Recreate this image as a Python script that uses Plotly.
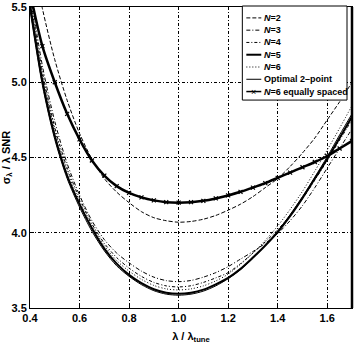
import plotly.graph_objects as go

# Normalised wavelength grid
lam = [0.40, 0.45, 0.50, 0.55, 0.60, 0.65, 0.70, 0.75, 0.80, 0.85, 0.90, 0.95,
       1.00, 1.05, 1.10, 1.15, 1.20, 1.25, 1.30, 1.35, 1.40, 1.45, 1.50, 1.55,
       1.60, 1.65, 1.70]

# Normalised error sigma_lambda / lambda * SNR for each design
n2 = [5.90, 5.49, 5.15, 4.88, 4.66, 4.49, 4.36, 4.27, 4.20, 4.14, 4.10, 4.08,
      4.07, 4.075, 4.09, 4.115, 4.15, 4.19, 4.24, 4.30, 4.36, 4.44, 4.53, 4.63,
      4.75, 4.87, 5.00]
n3 = [5.62, 5.11, 4.74, 4.46, 4.25, 4.08, 3.955, 3.865, 3.80, 3.745, 3.705, 3.682,
      3.675, 3.683, 3.705, 3.735, 3.775, 3.825, 3.875, 3.93, 3.995, 4.08, 4.18, 4.30,
      4.43, 4.56, 4.69]
n4 = [5.58, 5.07, 4.70, 4.43, 4.23, 4.06, 3.93, 3.835, 3.765, 3.71, 3.67, 3.647,
      3.64, 3.648, 3.67, 3.70, 3.735, 3.795, 3.865, 3.94, 4.02, 4.115, 4.225, 4.35,
      4.48, 4.615, 4.75]
n5 = [5.52, 5.01, 4.645, 4.38, 4.19, 4.03, 3.895, 3.795, 3.72, 3.665, 3.625, 3.602,
      3.595, 3.602, 3.622, 3.657, 3.70, 3.76, 3.835, 3.915, 4.005, 4.11, 4.23, 4.36,
      4.49, 4.63, 4.77]
n6 = [5.56, 5.05, 4.68, 4.41, 4.21, 4.05, 3.915, 3.815, 3.745, 3.69, 3.65, 3.627,
      3.62, 3.627, 3.647, 3.68, 3.725, 3.79, 3.865, 3.95, 4.045, 4.155, 4.275, 4.41,
      4.55, 4.695, 4.845]
opt2 = [5.48, 4.98, 4.62, 4.36, 4.17, 4.01, 3.88, 3.78, 3.71, 3.655, 3.615, 3.592,
        3.585, 3.592, 3.612, 3.647, 3.695, 3.755, 3.83, 3.915, 4.01, 4.12, 4.24, 4.37,
        4.505, 4.65, 4.79]
n6_eq = [5.60, 5.24, 5.00, 4.79, 4.62, 4.48, 4.38, 4.31, 4.265, 4.235, 4.215, 4.203,
         4.20, 4.203, 4.212, 4.228, 4.248, 4.272, 4.30, 4.33, 4.365, 4.40, 4.435, 4.47,
         4.51, 4.56, 4.61]

x_ticks = [0.4, 0.6, 0.8, 1.0, 1.2, 1.4, 1.6]
y_ticks = [3.5, 4.0, 4.5, 5.0, 5.5]

FONT = "Liberation Sans, Arial, sans-serif"

series = [
    ("<i>N</i>=2", n2, dict(color="black", width=1, dash="4px,2px")),
    ("<i>N</i>=3", n3, dict(color="black", width=1, dash="4px,2px,1px,2px")),
    ("<i>N</i>=4", n4, dict(color="black", width=1, dash="3px,2px,1px,2px")),
    ("<i>N</i>=5", n5, dict(color="black", width=2)),
    ("<i>N</i>=6", n6, dict(color="black", width=1, dash="1px,2px")),
    ("Optimal 2–point", opt2, dict(color="black", width=1)),
]

fig = go.Figure()
for name, ys, line in series:
    fig.add_trace(go.Scatter(x=lam, y=ys, mode="lines", name=name,
                             line=dict(shape="spline", smoothing=0.8, **line)))

eq_name = "<i>N</i>=6 equally spaced"
fig.add_trace(go.Scatter(
    x=lam, y=n6_eq, mode="lines+markers", name=eq_name,
    line=dict(color="black", width=2.5, shape="spline", smoothing=0.8),
    marker=dict(symbol="x-thin-open", size=4, line=dict(color="black", width=1.2)),
))

grid = dict(showgrid=True, gridcolor="black", gridwidth=1, griddash="3px,2px,1px,2px")
tfont = dict(family=FONT, size=11, color="black", weight="bold")

fig.update_xaxes(range=[0.4, 1.7], tickvals=x_ticks, ticktext=[f"{v:.1f}" for v in x_ticks],
                 showline=True, linecolor="black", linewidth=1, mirror=True,
                 ticks="inside", ticklen=4, tickcolor="black", zeroline=False,
                 ticklabeloverflow="allow",
                 title=dict(text="λ / λ<sub>tune</sub>", standoff=10, font=tfont),
                 tickfont=tfont, **grid)
fig.update_yaxes(range=[3.5, 5.5], tickvals=y_ticks, ticktext=[f"{v:.1f}" for v in y_ticks],
                 showline=True, linecolor="black", linewidth=1, mirror=True,
                 ticks="inside", ticklen=4, tickcolor="black", zeroline=False,
                 ticklabeloverflow="allow",
                 title=dict(text="σ<sub>λ</sub> / λ SNR", standoff=2, font=tfont),
                 tickfont=tfont, **grid)

# Heavy right-hand frame edge
fig.add_shape(type="line", xref="x domain", yref="y domain", x0=1, x1=1, y0=0, y1=1,
              line=dict(color="black", width=2.5))

# Compact legend box drawn in axis-domain coordinates
L, R, T, B = 30, 353, 4, 308   # plot-area extent in pixels


def dx(px):
    return (px - L) / (R - L)


def dy(py):
    return (B - py) / (B - T)


fig.add_shape(type="rect", xref="x domain", yref="y domain",
              x0=dx(243), x1=dx(348), y0=dy(98), y1=dy(3),
              line=dict(color="black", width=1), fillcolor="white", layer="above")

entries = [(name, line) for name, _, line in series] + \
          [(eq_name, dict(color="black", width=1.5))]
for i, (name, line) in enumerate(entries):
    py = 15 + 12.4 * i
    fig.add_shape(type="line", xref="x domain", yref="y domain",
                  x0=dx(247), x1=dx(262), y0=dy(py), y1=dy(py),
                  line=line, layer="above")
    fig.add_annotation(xref="x domain", yref="y domain", x=dx(263), y=dy(py),
                       text=name, showarrow=False, xanchor="left", yanchor="middle",
                       font=dict(family=FONT, size=9, color="black", weight="bold"))
    if name == eq_name:
        fig.add_annotation(xref="x domain", yref="y domain", x=dx(254.5), y=dy(py),
                           text="×", showarrow=False, xanchor="center", yanchor="middle",
                           font=dict(family=FONT, size=9, color="black"))

fig.update_layout(
    width=354, height=344,
    margin=dict(l=30, r=1, t=4, b=36),
    paper_bgcolor="white", plot_bgcolor="white",
    showlegend=False,
)

fig.write_html("out.html")
